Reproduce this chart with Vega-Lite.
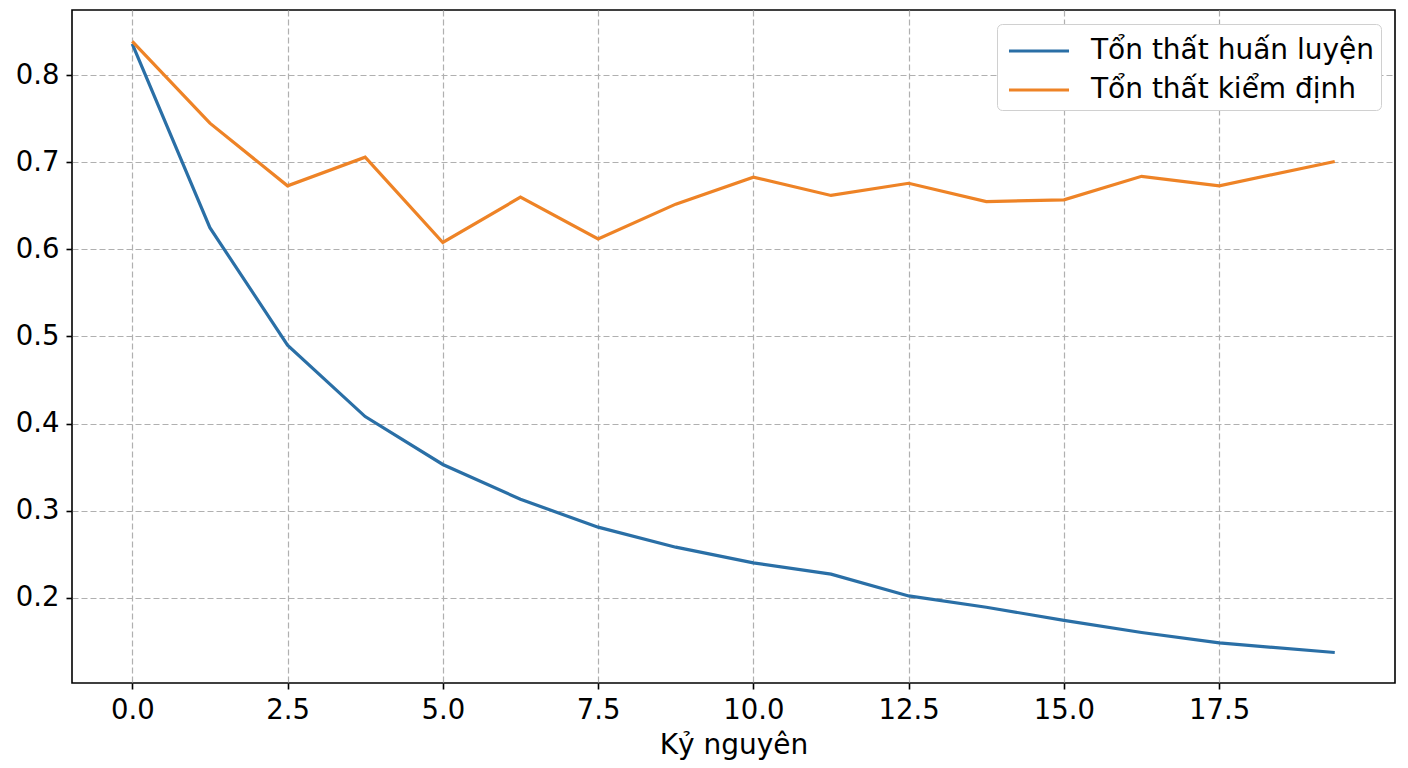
{
  "$schema": "https://vega.github.io/schema/vega-lite/v6.json",
  "autosize": "none",
  "width": 1323,
  "height": 673,
  "padding": {"left": 72, "top": 10, "right": 13, "bottom": 85},
  "background": "white",
  "data": {
    "values": [
      {"epoch": 0, "loss": 0.836, "series": "Tổn thất huấn luyện"},
      {"epoch": 1.25, "loss": 0.625, "series": "Tổn thất huấn luyện"},
      {"epoch": 2.5, "loss": 0.49, "series": "Tổn thất huấn luyện"},
      {"epoch": 3.75, "loss": 0.408, "series": "Tổn thất huấn luyện"},
      {"epoch": 5.0, "loss": 0.353, "series": "Tổn thất huấn luyện"},
      {"epoch": 6.25, "loss": 0.313, "series": "Tổn thất huấn luyện"},
      {"epoch": 7.5, "loss": 0.281, "series": "Tổn thất huấn luyện"},
      {"epoch": 8.75, "loss": 0.258, "series": "Tổn thất huấn luyện"},
      {"epoch": 10.0, "loss": 0.24, "series": "Tổn thất huấn luyện"},
      {"epoch": 11.25, "loss": 0.227, "series": "Tổn thất huấn luyện"},
      {"epoch": 12.5, "loss": 0.202, "series": "Tổn thất huấn luyện"},
      {"epoch": 13.75, "loss": 0.189, "series": "Tổn thất huấn luyện"},
      {"epoch": 15.0, "loss": 0.174, "series": "Tổn thất huấn luyện"},
      {"epoch": 16.25, "loss": 0.16, "series": "Tổn thất huấn luyện"},
      {"epoch": 17.5, "loss": 0.148, "series": "Tổn thất huấn luyện"},
      {"epoch": 19.36, "loss": 0.137, "series": "Tổn thất huấn luyện"},
      {"epoch": 0, "loss": 0.839, "series": "Tổn thất kiểm định"},
      {"epoch": 1.25, "loss": 0.745, "series": "Tổn thất kiểm định"},
      {"epoch": 2.5, "loss": 0.673, "series": "Tổn thất kiểm định"},
      {"epoch": 3.75, "loss": 0.706, "series": "Tổn thất kiểm định"},
      {"epoch": 5.0, "loss": 0.608, "series": "Tổn thất kiểm định"},
      {"epoch": 6.25, "loss": 0.66, "series": "Tổn thất kiểm định"},
      {"epoch": 7.5, "loss": 0.612, "series": "Tổn thất kiểm định"},
      {"epoch": 8.75, "loss": 0.652, "series": "Tổn thất kiểm định"},
      {"epoch": 10.0, "loss": 0.683, "series": "Tổn thất kiểm định"},
      {"epoch": 11.25, "loss": 0.662, "series": "Tổn thất kiểm định"},
      {"epoch": 12.5, "loss": 0.676, "series": "Tổn thất kiểm định"},
      {"epoch": 13.75, "loss": 0.655, "series": "Tổn thất kiểm định"},
      {"epoch": 15.0, "loss": 0.657, "series": "Tổn thất kiểm định"},
      {"epoch": 16.25, "loss": 0.684, "series": "Tổn thất kiểm định"},
      {"epoch": 17.5, "loss": 0.673, "series": "Tổn thất kiểm định"},
      {"epoch": 19.36, "loss": 0.701, "series": "Tổn thất kiểm định"}
    ]
  },
  "mark": {"type": "line", "strokeWidth": 3.2, "clip": true},
  "encoding": {
    "x": {
      "field": "epoch",
      "type": "quantitative",
      "title": "Kỷ nguyên",
      "scale": {"domain": [-0.97, 20.33], "nice": false, "zero": false},
      "axis": {
        "values": [0, 2.5, 5, 7.5, 10, 12.5, 15, 17.5],
        "format": ".1f",
        "labelPadding": 7,
        "titlePadding": 8
      }
    },
    "y": {
      "field": "loss",
      "type": "quantitative",
      "title": null,
      "scale": {"domain": [0.102, 0.875], "nice": false, "zero": false},
      "axis": {
        "values": [0.2, 0.3, 0.4, 0.5, 0.6, 0.7, 0.8],
        "format": ".1f",
        "labelPadding": 7
      }
    },
    "color": {
      "field": "series",
      "type": "nominal",
      "title": null,
      "scale": {
        "domain": ["Tổn thất huấn luyện", "Tổn thất kiểm định"],
        "range": ["#2a6fa6", "#ee8326"]
      },
      "legend": {
        "orient": "none",
        "legendX": 925,
        "legendY": 14,
        "symbolType": "M-0.79,0H2.37",
        "symbolSize": 1444,
        "symbolStrokeWidth": 3.2,
        "labelFontSize": 28,
        "labelColor": "black",
        "labelFont": "DejaVu Sans",
        "labelLimit": 0,
        "rowPadding": 4,
        "labelOffset": 46,
        "padding": 6,
        "strokeColor": "#d0d0d0",
        "fillColor": "white",
        "cornerRadius": 5
      }
    }
  },
  "config": {
    "font": "DejaVu Sans",
    "view": {"stroke": "black", "strokeWidth": 1.6},
    "axis": {
      "grid": true,
      "gridColor": "#b0b0b0",
      "gridDash": [6, 3],
      "gridWidth": 1.2,
      "domain": false,
      "tickColor": "black",
      "tickSize": 6,
      "tickWidth": 1.6,
      "labelFontSize": 27.5,
      "labelColor": "black",
      "labelFont": "DejaVu Sans",
      "titleFontSize": 28,
      "titleFontWeight": "normal",
      "titleColor": "black",
      "titleFont": "DejaVu Sans"
    }
  }
}
